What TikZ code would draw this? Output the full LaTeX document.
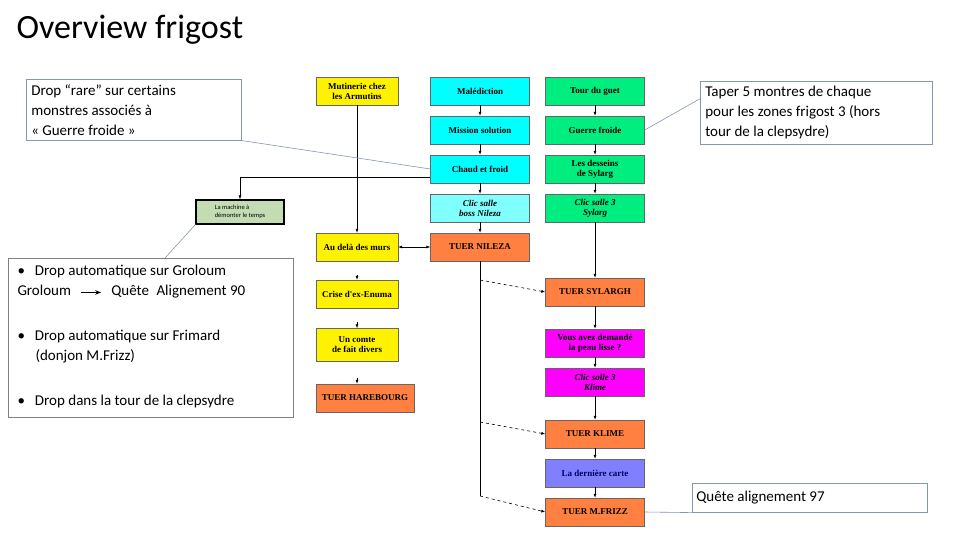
\documentclass[tikz,border=0pt]{standalone}
\usepackage{fontspec}
\setmainfont{Carlito}
\newfontfamily\boxfont{Liberation Serif}
\usetikzlibrary{arrows.meta}
\definecolor{cyanb}{HTML}{00FFFF}
\definecolor{lcyan}{HTML}{80FFFF}
\definecolor{greenb}{HTML}{00EE7F}
\definecolor{orangeb}{HTML}{FF8040}
\definecolor{magb}{HTML}{FF00FF}
\definecolor{violb}{HTML}{8080FF}
\definecolor{machg}{HTML}{C4DCB4}
\definecolor{callb}{HTML}{8497B0}
\begin{document}
\begin{tikzpicture}[x=1pt,y=-1pt,
  bx/.style={draw=black!60,line width=0.4pt,minimum width=99pt,minimum height=28pt,inner sep=1pt,align=center,font=\boxfont\bfseries\fontsize{9}{10}\selectfont},
  bxi/.style={bx,font=\boxfont\bfseries\itshape\fontsize{9}{10}\selectfont},
  yb/.style={bx,fill=yellow,minimum width=82pt},
  call/.style={draw=callb,line width=0.6pt,fill=white,align=flush left,inner sep=5pt,font=\fontsize{15}{20}\selectfont,anchor=north west},
  ar/.style={-{Latex[length=4pt,width=3pt]},line width=0.6pt},
  pt/.style={draw=callb,line width=0.6pt}]
\useasboundingbox (0,0) rectangle (960,540);
\node[anchor=north west,font=\fontsize{34}{40}\selectfont] (title) at (13,12) {Overview frigost};
% column A
\node[yb] (mut) at (357,91) {Mutinerie chez\\les Armutins};
\node[yb] (aud) at (357,247) {Au delà des murs};
\node[yb] (cri) at (357,294) {Crise d'ex-Enuma};
\node[yb,minimum height=33pt] (com) at (357,345) {Un comte\\de fait divers};
\node[bx,fill=orangeb,minimum width=98pt] (har) at (365,398) {TUER HAREBOURG};
% column B
\node[bx,fill=cyanb] (mal) at (480,91) {Malédiction};
\node[bx,fill=cyanb] (mis) at (480,130) {Mission solution};
\node[bx,fill=cyanb] (cha) at (480,169) {Chaud et froid};
\node[bxi,fill=lcyan] (clb) at (480,208) {Clic salle\\boss Nileza};
\node[bx,fill=orangeb] (nil) at (480,247) {TUER NILEZA};
% column C
\node[bx,fill=greenb] (tour) at (595,91) {Tour du guet};
\node[bx,fill=greenb] (gue) at (595,130) {Guerre froide};
\node[bx,fill=greenb] (des) at (595,169) {Les desseins\\de Sylarg};
\node[bxi,fill=greenb] (cls) at (595,208) {Clic salle 3\\Sylarg};
\node[bx,fill=orangeb] (syl) at (595,292) {TUER SYLARGH};
\node[bx,fill=magb] (vou) at (595,343) {Vous avez demandé\\la peau lisse ?};
\node[bxi,fill=magb] (clk) at (595,382) {Clic salle 3\\Klime};
\node[bx,fill=orangeb] (kli) at (595,434) {TUER KLIME};
\node[bx,fill=violb,text=blue!40!black] (der) at (595,473) {La dernière carte};
\node[bx,fill=orangeb] (fri) at (595,512) {TUER M.FRIZZ};
% machine
\node[draw=black,line width=1.2pt,fill=machg,minimum width=88pt,minimum height=24pt,align=left,font=\fontsize{6.5}{8}\selectfont] (mac) at (240,212) {La machine à\\démonter le temps};
% arrows
\draw[ar] (mut) -- (aud);
\draw[ar] (aud.south) ++(0,14) coordinate (a1) -- (cri);
\draw[ar] (cri.south) ++(0,14) coordinate (a2) -- (com);
\draw[ar] (com.south) ++(0,16) coordinate (a3) -- (har.north -| com);
\draw[ar] (mal) -- (mis); \draw[ar] (mis) -- (cha); \draw[ar] (cha) -- (clb); \draw[ar] (clb) -- (nil);
\draw[{Latex[length=4pt,width=3pt]}-{Latex[length=4pt,width=3pt]},line width=0.6pt] (aud) -- (nil);
\draw[ar] (tour) -- (gue); \draw[ar] (gue) -- (des); \draw[ar] (des) -- (cls); \draw[ar] (cls) -- (syl);
\draw[ar] (syl) -- (vou); \draw[ar] (vou) -- (clk); \draw[ar] (clk) -- (kli); \draw[ar] (kli) -- (der); \draw[ar] (der) -- (fri);
\draw[line width=0.6pt] (nil.south) -- (nil.south |- 0,496) coordinate (nb);
\draw[ar,dashed] (nil.south |- 0,280) -- (syl.west);
\draw[ar,dashed] (nil.south |- 0,422) -- (kli.west);
\draw[ar,dashed] (nb) -- (fri.west);
\draw[ar] (cha.west |- 0,177) -| (mac.north);
% callouts
\node[call,text width=205pt] (c1) at (26,79) {Drop “rare” sur certains\\monstres associés à\\« Guerre froide »};
\draw[pt] (c1.south east) -- (cha.west);
\node[call,text width=222pt] (c2) at (700,81) {Taper 5 montres de chaque\\pour les zones frigost 3 (hors\\tour de la clepsydre)};
\draw[pt] (c2.west) ++(0,-14) coordinate (c2p) -- (gue.east);
\node[call,draw=black!50,minimum width=285pt,minimum height=159pt,inner sep=4pt] (c3) at (8,258) {};
\node[anchor=north west,font=\fontsize{15}{20}\selectfont,align=left] (t1) at (14,262) {\textbullet\hspace{10pt}Drop automatique sur Groloum\\Groloum \hspace{6pt}\tikz[baseline=-3.5pt]\draw[-{Stealth[length=6pt]},line width=1.4pt] (0,0) -- (20,0);\hspace{6pt} Quête \;Alignement 90};
\node[anchor=north west,font=\fontsize{15}{20}\selectfont,align=left] (t2) at (14,327) {\textbullet\hspace{10pt}Drop automatique sur Frimard\\\hspace{18pt}(donjon M.Frizz)};
\node[anchor=north west,font=\fontsize{15}{20}\selectfont] (t3) at (14,392) {\textbullet\hspace{10pt}Drop dans la tour de la clepsydre};
\draw[pt] (165,258) coordinate (c3p) -- (mac.south west);
\node[call,text width=227pt,minimum height=29pt,inner sep=4pt,anchor=north west] (c4) at (692,483) {Quête alignement 97};
\draw[pt] (c4.south west) -- (fri.east);
\end{tikzpicture}
\end{document}
